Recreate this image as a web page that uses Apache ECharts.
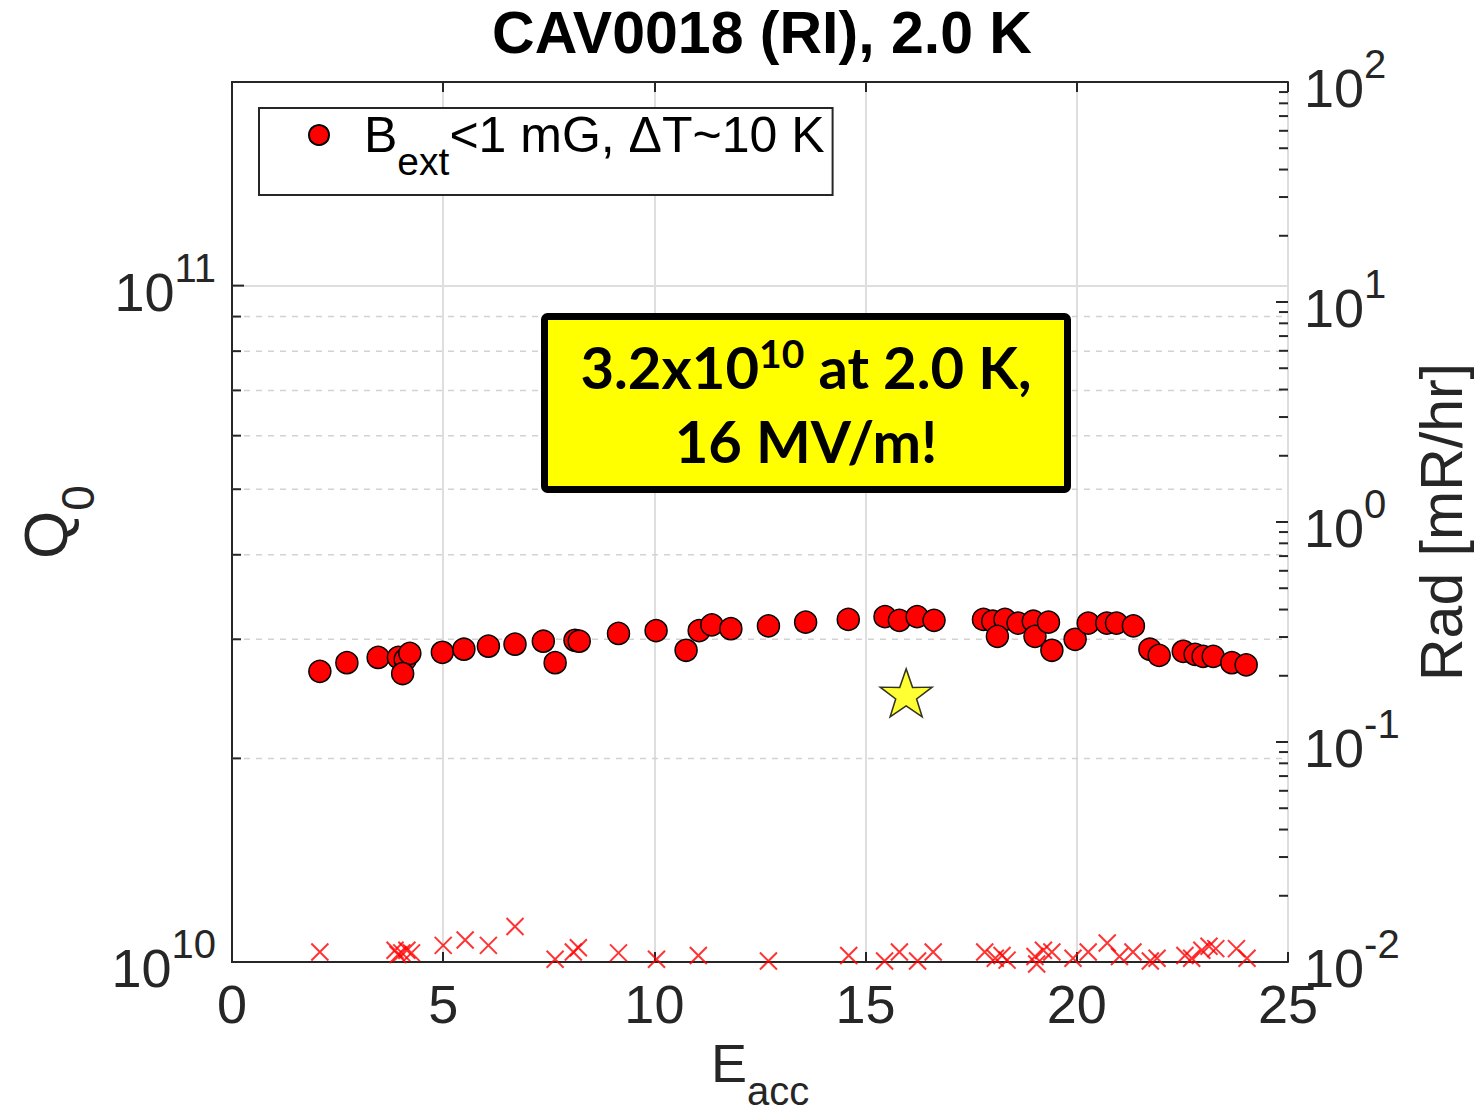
<!DOCTYPE html>
<html>
<head>
<meta charset="utf-8">
<title>CAV0018 (RI), 2.0 K</title>
<script src="https://cdn.jsdelivr.net/npm/echarts@6/dist/echarts.min.js"></script>
<style>
  html, body { margin: 0; padding: 0; background: #fff; }
  #chart { width: 1478px; height: 1112px; }
</style>
</head>
<body>
<div id="chart"></div>
<script>
// ---- data -------------------------------------------------------------
const chartTitle = 'CAV0018 (RI), 2.0 K';
const seriesName = 'Bext<1 mG, \u0394T~10 K';

// Q0 vs accelerating gradient (MV/m)
const eaccQ0 = [2.08, 2.72, 3.46, 3.94, 4.10, 4.21, 4.04, 4.98, 5.49, 6.07,
  6.70, 7.37, 7.65, 8.12, 8.22, 9.15, 10.04, 10.75, 11.06, 11.36,
  11.81, 12.70, 13.58, 14.59, 15.46, 15.80, 16.22, 16.62, 17.79, 18.01,
  18.30, 18.12, 18.61, 18.97, 19.01, 19.33, 19.41, 19.96, 20.27, 20.71,
  20.94, 21.34, 21.73, 21.95, 22.52, 22.80, 22.99, 23.23, 23.67, 24.01];
const q0 = [2.69e10, 2.77e10, 2.82e10, 2.82e10, 2.80e10, 2.86e10, 2.67e10, 2.87e10, 2.90e10, 2.93e10,
  2.95e10, 2.98e10, 2.77e10, 2.99e10, 2.98e10, 3.06e10, 3.09e10, 2.89e10, 3.09e10, 3.15e10,
  3.11e10, 3.14e10, 3.18e10, 3.21e10, 3.24e10, 3.20e10, 3.24e10, 3.20e10, 3.21e10, 3.19e10,
  3.21e10, 3.03e10, 3.17e10, 3.19e10, 3.03e10, 3.18e10, 2.89e10, 3.00e10, 3.17e10, 3.17e10,
  3.17e10, 3.14e10, 2.90e10, 2.84e10, 2.88e10, 2.85e10, 2.83e10, 2.83e10, 2.77e10, 2.75e10];

// radiation (mR/hr) vs gradient
const eaccRad = [2.08, 3.86, 3.93, 4.02, 4.14, 4.25, 5.00, 5.52, 6.07, 6.70,
  7.65, 8.08, 8.20, 9.15, 10.05, 11.04, 12.70, 14.60, 15.45, 15.80,
  16.23, 16.60, 17.82, 18.07, 18.23, 18.35, 19.01, 19.05, 19.21, 19.41,
  19.91, 20.27, 20.72, 21.01, 21.33, 21.74, 21.90, 22.56, 22.72, 22.96,
  23.13, 23.29, 23.78, 24.03];
const rad = [0.0111, 0.0113, 0.0108, 0.0110, 0.0113, 0.0110, 0.0119, 0.0126, 0.0119, 0.0145,
  0.0103, 0.0111, 0.0116, 0.0110, 0.0103, 0.0107, 0.0101, 0.0107, 0.0101, 0.0111,
  0.0101, 0.0111, 0.0111, 0.0104, 0.0107, 0.0102, 0.0106, 0.0098, 0.0113, 0.0111,
  0.0104, 0.0111, 0.0122, 0.0106, 0.0111, 0.0101, 0.0104, 0.0107, 0.0104, 0.0113,
  0.0118, 0.0115, 0.0115, 0.0104];

// highlighted reference point (star)
const starEacc = [15.96];
const starQ0 = [2.5e10];

// axis ranges and ticks
const xMin = 0, xMax = 25, xStep = 5;
const q0Min = 1e10, q0Max = 2e11;
const radMin = 1e-2, radMax = 1e2;
const q0MajorTicks = [1e10, 1e11];
const q0MinorTicks = [2e10, 3e10, 4e10, 5e10, 6e10, 7e10, 8e10, 9e10];
const radMajorTicks = [0.01, 0.1, 1, 10, 100];
const radMinorTicks = [
  0.02, 0.03, 0.04, 0.05, 0.06, 0.07, 0.08, 0.09,
  0.2, 0.3, 0.4, 0.5, 0.6, 0.7, 0.8, 0.9,
  2, 3, 4, 5, 6, 7, 8, 9,
  20, 30, 40, 50, 60, 70, 80, 90];

// ---- styling ----------------------------------------------------------
const FONT = 'Liberation Sans, Arial, Helvetica, sans-serif';
const INK = '#262626';
const GRID = '#dedede';
const MAJOR_LEN = 12, MINOR_LEN = 9;

function powLabel(v) {
  const e = Math.log10(v);
  const r = Math.round(e);
  if (Math.abs(e - r) > 1e-6) return '';
  return '{b|10}{s|' + r + '}';
}
// exponent raised by padding: base pushed down, exponent pushed up
const powRich = {
  b: { fontFamily: FONT, fontSize: 54, lineHeight: 54, color: INK, verticalAlign: 'middle', padding: [12, 0, 0, 0] },
  s: { fontFamily: FONT, fontSize: 40, lineHeight: 40, color: INK, verticalAlign: 'middle', padding: [0, 0, 36, 0] }
};
const subRich = {
  b: { fontFamily: FONT, fontSize: 54, lineHeight: 54, color: INK, verticalAlign: 'top' },
  s: { fontFamily: FONT, fontSize: 40, lineHeight: 40, color: INK, verticalAlign: 'top', padding: [35, 0, 0, 0] }
};
const qRich = {
  b: { fontFamily: FONT, fontSize: 62, lineHeight: 62, color: INK, verticalAlign: 'top' },
  s: { fontFamily: FONT, fontSize: 46, lineHeight: 46, color: INK, verticalAlign: 'top', padding: [40, 0, 0, 0] }
};

// dashed minor grid line plus inward tick on the left frame edge
function minorGrid(params, api) {
  const cs = params.coordSys;
  const y = api.coord([xMin, api.value(1)])[1];
  return {
    type: 'group',
    children: [
      { type: 'line', shape: { x1: cs.x, y1: y, x2: cs.x + cs.width, y2: y },
        style: { stroke: '#d2d2d2', lineWidth: 1.5, lineDash: [6, 6] } },
      { type: 'line', shape: { x1: cs.x, y1: y, x2: cs.x + MINOR_LEN, y2: y },
        style: { stroke: INK, lineWidth: 2 } }
    ]
  };
}
// inward tick on the left frame edge
function leftTick(params, api) {
  const cs = params.coordSys;
  const y = api.coord([xMin, api.value(1)])[1];
  return { type: 'line', shape: { x1: cs.x, y1: y, x2: cs.x + api.value(2), y2: y },
    style: { stroke: INK, lineWidth: 2 } };
}
// inward tick on the right frame edge
function rightTick(params, api) {
  const cs = params.coordSys;
  const y = api.coord([xMin, api.value(1)])[1];
  const xr = cs.x + cs.width;
  return { type: 'line', shape: { x1: xr - api.value(2), y1: y, x2: xr, y2: y },
    style: { stroke: INK, lineWidth: 2 } };
}

const chart = echarts.init(document.getElementById('chart'), null, { renderer: 'svg' });

chart.setOption({
  backgroundColor: '#ffffff',
  animation: false,
  title: {
    text: chartTitle,
    left: 762, top: 3, padding: 0,
    textAlign: 'center',
    textStyle: { fontFamily: FONT, fontWeight: 'bold', fontSize: 59, color: '#000' }
  },
  grid: { left: 232, right: 190, top: 82, bottom: 150, containLabel: false, outerBoundsMode: 'none' },
  legend: {
    data: [seriesName],
    left: 259, top: 108,
    orient: 'vertical',
    padding: [2, 8, 14, 49],
    backgroundColor: '#fff',
    borderColor: INK, borderWidth: 2, borderRadius: 0,
    itemWidth: 20, itemHeight: 20,
    icon: 'circle',
    selectedMode: false,
    formatter: () => '{b|B}{s|ext}{b|<1 mG, \u0394T~10 K}',
    textStyle: {
      padding: [0, 0, 0, 30],
      rich: {
        b: { fontFamily: FONT, fontSize: 50, lineHeight: 50, color: '#000', verticalAlign: 'top' },
        s: { fontFamily: FONT, fontSize: 39, lineHeight: 39, color: '#000', verticalAlign: 'top', padding: [32, 0, 0, 0] }
      }
    }
  },
  xAxis: [{
    type: 'value', min: xMin, max: xMax, interval: xStep,
    position: 'bottom',
    name: '{b|E}{s|acc}', nameLocation: 'middle', nameGap: 68,
    nameTextStyle: { rich: subRich },
    axisLine: { show: true, lineStyle: { color: INK, width: 2 } },
    axisTick: { show: true, inside: true, length: 10, lineStyle: { color: INK, width: 2 } },
    axisLabel: { show: true, margin: 15, fontFamily: FONT, fontSize: 54, color: INK },
    splitLine: { show: true, lineStyle: { color: GRID, width: 2 } }
  }, {
    type: 'value', min: xMin, max: xMax, interval: xStep,
    position: 'top',
    axisLine: { show: true, lineStyle: { color: INK, width: 2 } },
    axisTick: { show: true, inside: true, length: 10, lineStyle: { color: INK, width: 2 } },
    axisLabel: { show: false },
    splitLine: { show: false }
  }],
  yAxis: [{
    type: 'log', logBase: 10, min: q0Min, max: q0Max,
    position: 'left',
    name: '{b|Q}{s|0}', nameLocation: 'middle', nameGap: 141, nameRotate: 90,
    nameTextStyle: { rich: qRich },
    axisLine: { show: true, lineStyle: { color: INK, width: 2 } },
    axisTick: { show: false },
    axisLabel: { show: true, margin: 16, formatter: powLabel, rich: powRich, showMaxLabel: false },
    splitLine: { show: true, lineStyle: { color: GRID, width: 2 } },
    minorTick: { show: false }, minorSplitLine: { show: false }
  }, {
    type: 'log', logBase: 10, min: radMin, max: radMax,
    position: 'right',
    alignTicks: false,
    name: 'Rad [mR/hr]', nameLocation: 'middle', nameGap: 124, nameRotate: 90,
    nameTextStyle: { fontFamily: FONT, fontSize: 59, color: INK },
    axisLine: { show: true, lineStyle: { color: INK, width: 2 } },
    axisTick: { show: false },
    axisLabel: { show: true, margin: 16, formatter: powLabel, rich: powRich },
    splitLine: { show: false },
    minorTick: { show: false }, minorSplitLine: { show: false }
  }],
  graphic: [{
    type: 'rect', z: 100,
    shape: { x: 544.5, y: 316.5, width: 523, height: 173, r: 3 },
    style: { fill: '#ffff00', stroke: '#000', lineWidth: 7 }
  }, {
    type: 'text', z: 101,
    x: 806, y: 403,
    style: {
      text: '{b|3.2x10}{s|10}{b| at 2.0 K,}\n{b|16 MV/m!}',
      align: 'center', verticalAlign: 'middle',
      rich: {
        b: { fontFamily: 'Lato, Open Sans, sans-serif', fontWeight: 'bold', fontSize: 58, lineHeight: 74, fill: '#000' },
        s: { fontFamily: 'Lato, Open Sans, sans-serif', fontWeight: 'bold', fontSize: 39, lineHeight: 39, fill: '#000', verticalAlign: 'top', padding: [4, 0, 0, 0] }
      }
    }
  }],
  series: [{
    type: 'custom', name: 'q0-minor', xAxisIndex: 0, yAxisIndex: 0,
    silent: true, z: 1,
    data: q0MinorTicks.map(v => [xMin, v]),
    renderItem: minorGrid
  }, {
    type: 'custom', name: 'q0-major', xAxisIndex: 0, yAxisIndex: 0,
    silent: true, z: 2,
    data: q0MajorTicks.map(v => [xMin, v, MAJOR_LEN]),
    renderItem: leftTick
  }, {
    type: 'custom', name: 'rad-ticks', xAxisIndex: 0, yAxisIndex: 1,
    silent: true, z: 2,
    data: radMajorTicks.map(v => [xMin, v, MAJOR_LEN])
      .concat(radMinorTicks.map(v => [xMin, v, MINOR_LEN])),
    renderItem: rightTick
  }, {
    type: 'scatter', name: 'rad', xAxisIndex: 0, yAxisIndex: 1,
    data: eaccRad.map((e, i) => [e, rad[i]]),
    symbol: 'path://M0,0L10,10M10,0L0,10',
    symbolSize: 17,
    clip: false,
    itemStyle: { color: 'rgba(0,0,0,0)', borderColor: '#ff0000', borderWidth: 2 },
    z: 3
  }, {
    type: 'scatter', name: seriesName, xAxisIndex: 0, yAxisIndex: 0,
    data: eaccQ0.map((e, i) => [e, q0[i]]),
    symbol: 'circle', symbolSize: 22,
    itemStyle: { color: '#ff0000', borderColor: '#000', borderWidth: 1.5, opacity: 1 },
    z: 4
  }, {
    type: 'scatter', name: 'star', xAxisIndex: 0, yAxisIndex: 0,
    data: starEacc.map((e, i) => [e, starQ0[i]]),
    symbol: 'path://M50,0L61.8,35.1L97.6,34.5L69.1,56.7L79.4,90.5L50,70L20.6,90.5L30.9,56.7L2.4,34.5L38.2,35.1Z',
    symbolSize: [52, 48],
    itemStyle: { color: '#ffff00', borderColor: '#000', borderWidth: 1.5 },
    z: 5
  }]
});
</script>
</body>
</html>
